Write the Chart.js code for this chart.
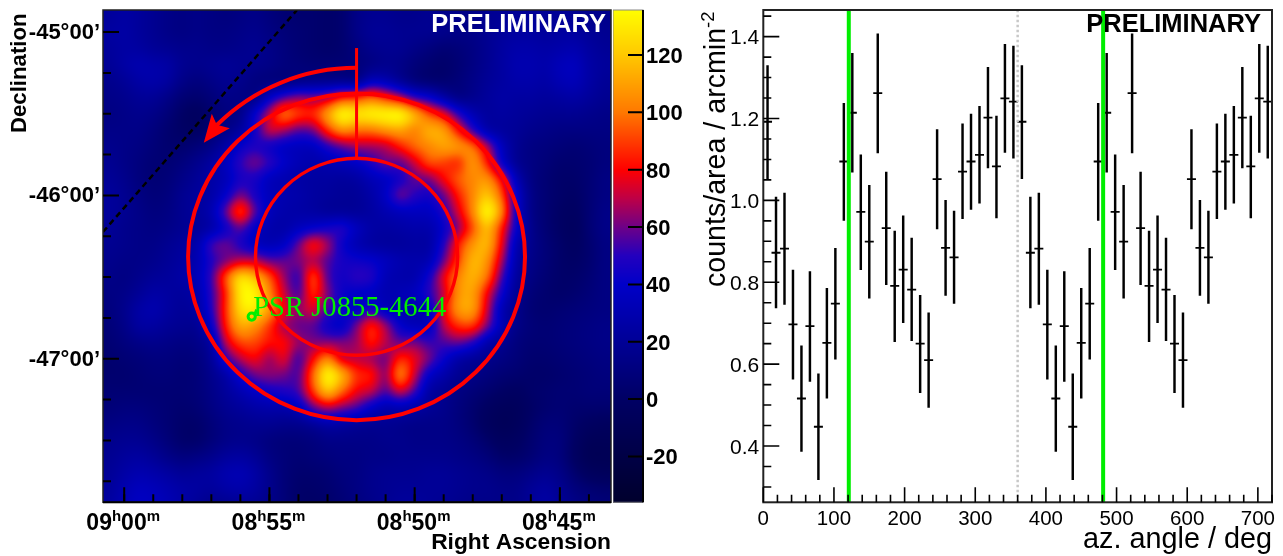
<!DOCTYPE html>
<html>
<head>
<meta charset="utf-8">
<title>Sky map and azimuthal profile</title>
<script src="https://cdn.jsdelivr.net/npm/chart.js@4"></script>
<style>
  html, body { margin: 0; background: #fff; }
  canvas { position: absolute; top: 0; }
  #mapChart { left: 0; }
  #barChart { left: 613px; }
  #azChart { left: 690px; }
</style>
</head>
<body>
<canvas id="mapChart" width="612" height="556"></canvas>
<canvas id="barChart" width="77" height="556"></canvas>
<canvas id="azChart" width="593" height="556"></canvas>

<script>
// ================= DATA: SKY MAP =================
// grid centres, right ascension in minutes after 08h, declination in degrees
const raGrid = [60.5,60,59.5,59,58.5,58,57.5,57,56.5,56,55.5,55,54.5,54,53.5,53,52.5,52,51.5,51,50.5,50,49.5,49,48.5,48,47.5,47,46.5,46,45.5,45,44.5,44,43.5];
const decGrid = [-44.9,-45,-45.1,-45.2,-45.3,-45.4,-45.5,-45.6,-45.7,-45.8,-45.9,-46,-46.1,-46.2,-46.3,-46.4,-46.5,-46.6,-46.7,-46.8,-46.9,-47,-47.1,-47.2,-47.3,-47.4,-47.5,-47.6,-47.7,-47.8,-47.9];
const skyCounts = [
  [22,25,22,18,14,12,14,12,10,12,14,10,6,4,4,2,4,14,18,18,16,16,18,16,14,14,18,20,20,20,20,20,18,16,16],
  [24,26,22,18,14,12,14,12,12,14,16,12,8,6,4,2,4,14,20,20,18,18,18,16,14,14,18,22,24,24,22,24,24,20,18],
  [22,25,24,20,18,16,16,14,14,16,18,14,10,6,4,2,4,10,16,18,18,14,10,6,8,12,18,24,28,28,26,28,30,24,20],
  [20,26,30,28,26,18,16,18,20,18,16,14,10,8,6,6,6,8,12,16,14,8,4,2,6,12,18,24,30,30,28,34,36,26,22],
  [16,20,26,28,24,14,10,14,18,16,10,8,8,12,14,14,14,12,34,30,18,8,4,4,8,14,20,24,28,28,26,32,34,26,20],
  [14,16,20,20,14,6,4,8,14,12,12,38,55,65,62,68,85,88,98,85,70,50,42,25,12,16,22,26,24,24,22,24,26,22,18],
  [12,14,16,14,8,0,-4,4,10,14,42,72,104,92,88,112,140,132,136,138,140,118,92,78,50,30,22,24,22,20,18,18,18,16,14],
  [14,14,14,10,4,0,-2,6,14,22,45,75,68,56,60,88,108,100,100,108,112,102,116,112,82,50,26,22,20,16,14,12,12,12,12],
  [16,14,12,8,4,4,8,14,26,42,48,42,36,34,34,48,58,66,66,68,84,98,104,112,110,100,70,34,18,12,10,8,6,8,10],
  [18,14,10,6,6,10,16,24,36,52,62,52,40,32,28,30,34,38,48,60,56,72,94,90,84,110,85,40,18,12,8,4,4,6,10],
  [20,16,10,6,8,14,20,26,32,46,46,34,30,26,24,24,22,24,32,36,44,58,60,80,96,104,108,80,32,12,6,2,2,6,12],
  [22,18,12,8,10,18,22,26,40,62,46,34,30,28,24,22,20,20,26,38,62,50,44,58,84,104,122,95,42,14,6,2,0,6,12],
  [22,18,14,10,12,18,22,30,60,96,58,34,28,26,24,20,20,20,24,30,34,36,36,48,74,104,140,106,42,14,6,0,-2,6,14],
  [20,16,14,12,14,18,20,26,42,58,38,28,26,34,40,46,50,36,26,24,26,28,28,40,62,92,120,84,42,16,6,0,-4,6,14],
  [18,16,14,14,18,22,28,55,60,46,34,30,36,60,86,68,42,30,24,22,22,24,24,48,85,108,118,78,30,16,8,2,-2,4,12],
  [16,14,14,16,20,24,30,48,60,70,70,58,58,62,68,56,46,44,42,36,30,28,30,58,90,118,108,68,26,14,8,2,0,4,12],
  [14,12,16,20,22,26,32,52,95,130,118,95,65,48,96,55,44,52,50,32,28,28,45,78,104,116,100,55,22,12,6,2,2,6,12],
  [12,14,20,26,24,22,28,50,85,134,136,104,72,52,90,62,42,38,36,30,32,36,50,70,108,112,78,44,18,8,4,2,4,8,12],
  [10,16,26,30,24,20,24,48,88,128,132,110,78,65,76,54,44,36,48,34,30,28,34,78,110,112,72,30,16,6,4,6,8,10,12],
  [8,14,24,24,20,18,18,40,85,114,106,88,65,58,56,42,36,62,88,68,40,32,34,70,88,90,62,32,14,8,6,8,10,12,14],
  [6,10,14,16,14,12,14,24,72,92,92,82,82,66,62,62,62,65,86,70,58,62,52,55,60,50,28,18,10,6,6,8,10,12,14],
  [4,6,8,10,10,8,10,20,50,70,80,64,78,50,80,106,72,70,65,58,88,78,62,42,26,20,16,12,8,4,4,6,8,10,12],
  [4,4,6,8,8,6,8,16,26,45,60,64,60,54,98,140,118,88,85,62,108,72,38,28,18,14,10,6,4,2,2,4,6,8,10],
  [6,6,6,6,6,6,8,14,22,30,38,44,48,54,90,122,98,78,72,55,75,55,24,18,12,8,4,0,-2,2,4,6,6,8,8],
  [8,10,10,8,6,4,6,12,18,22,26,28,28,34,58,70,62,55,38,28,30,26,20,16,10,4,-2,-6,-6,0,4,6,4,4,4],
  [12,14,14,10,6,2,2,8,14,16,18,18,16,16,20,26,24,20,18,18,16,14,14,14,10,4,-4,-8,-6,2,8,8,2,-2,-4],
  [16,18,18,14,8,2,2,8,14,16,14,10,8,8,10,14,14,14,14,16,16,14,14,14,12,8,2,-4,-2,4,10,10,0,-8,-8],
  [18,22,24,20,14,10,12,16,22,24,20,12,8,6,8,10,12,12,14,14,16,16,16,16,14,12,8,2,2,6,12,10,-2,-10,-10],
  [20,26,30,28,24,20,22,24,30,32,26,16,8,4,4,6,10,12,16,18,18,18,20,20,18,16,14,10,10,14,18,14,4,-4,-6],
  [22,30,36,34,30,26,24,22,26,28,24,16,8,2,2,4,8,12,16,18,20,20,20,20,18,16,16,14,14,20,24,18,10,6,4],
  [24,32,38,36,32,26,20,14,16,18,18,14,8,2,0,2,6,10,14,18,22,22,20,18,16,14,14,14,14,20,26,20,14,10,8]
];

// colour scale
const colorValues = [-36,0,20,40,50,60,70,80,90,100,120,136];
const colorStops = [[0,0,45],[0,0,100],[0,0,150],[0,0,200],[35,0,190],[110,0,135],[190,0,70],[255,0,0],[255,60,0],[255,120,0],[255,200,0],[255,255,0]];
const colorTicks = [-20,0,20,40,60,80,100,120];

// map axes
const raTicks = [60,55,50,45];
const raHours = ["09","08","08","08"];
const raMinutes = ["00","55","50","45"];
const raMinorTicks = [60,59,58,57,56,55,54,53,52,51,50,49,48,47,46,45,44];
const decTicks = [-45,-46,-47];
const decLabels = ["-45°00’","-46°00’","-47°00’"];
const decMinorTicks = [-45.25,-45.5,-45.75,-46.25,-46.5,-46.75,-47.25,-47.5,-47.75];

// overlays on the map
const ringRa = 52;
const ringDec = -46.376;
const outerRing = [5.80, 1.0];
const innerRing = [3.48, 0.603];
const arrowScale = 1.157;
const arrowTip = [57.26, -45.677];
const startLineDec = [-45.098, -45.776];
const planeRa = [60.73, 54.05];
const planeDec = [-46.224, -44.865];
const psrRa = 55.61;
const psrDec = -46.742;
const psrName = "PSR J0855-4644";

// ================= DATA: AZIMUTH PROFILE =================
const azCenters = [6,18,30,42,54,66,78,90,102,114,126,138,150,162,174,186,198,210,222,234,246,258,270,282,294,306,318,330,342,354,
                   366,378,390,402,414,426,438,450,462,474,486,498,510,522,534,546,558,570,582,594,606,618,630,642,654,666,678,690,702,714];
const azCounts = [1.192,0.872,0.882,0.697,0.516,0.693,0.447,0.652,0.748,1.095,1.214,0.972,0.899,1.262,0.932,0.791,0.831,0.782,0.650,0.610,1.052,0.884,0.861,1.070,1.095,1.111,1.202,1.083,1.249,1.241,
                  1.192,0.872,0.882,0.697,0.516,0.693,0.447,0.652,0.748,1.095,1.214,0.972,0.899,1.262,0.932,0.791,0.831,0.782,0.650,0.610,1.052,0.884,0.861,1.070,1.095,1.111,1.202,1.083,1.249,1.241];
const azLow = [1.053,0.737,0.746,0.563,0.387,0.558,0.318,0.517,0.612,0.951,1.069,0.831,0.761,1.116,0.794,0.655,0.701,0.657,0.530,0.494,0.930,0.768,0.748,0.955,0.978,0.993,1.079,0.957,1.117,1.103,
               1.053,0.737,0.746,0.563,0.387,0.558,0.318,0.517,0.612,0.951,1.069,0.831,0.761,1.116,0.794,0.655,0.701,0.657,0.530,0.494,0.930,0.768,0.748,0.955,0.978,0.993,1.079,0.957,1.117,1.103];
const azHigh = [1.329,1.008,1.018,0.830,0.645,0.826,0.576,0.785,0.883,1.237,1.359,1.111,1.037,1.407,1.069,0.925,0.962,0.908,0.768,0.725,1.173,1.000,0.974,1.187,1.211,1.230,1.325,1.206,1.381,1.377,
                1.329,1.008,1.018,0.830,0.645,0.826,0.576,0.785,0.883,1.237,1.359,1.111,1.037,1.407,1.069,0.925,0.962,0.908,0.768,0.725,1.173,1.000,0.974,1.187,1.211,1.230,1.325,1.206,1.381,1.377];
const greenAngles = [121, 481];
const wrapAngle = 360;
const azTicks = [0,100,200,300,400,500,600,700];
const azMinorTicks = [20,40,60,80,120,140,160,180,220,240,260,280,320,340,360,380,420,440,460,480,520,540,560,580,620,640,660,680,720];
const countTicks = [0.4,0.6,0.8,1.0,1.2,1.4];
const countMinorTicks = [0.3,0.35,0.45,0.5,0.55,0.65,0.7,0.75,0.85,0.9,0.95,1.05,1.1,1.15,1.25,1.3,1.35,1.45];

// ================= HELPERS =================
const SANS = '"Liberation Sans", Arial, sans-serif';
const SERIF = '"Liberation Serif", "Times New Roman", serif';

function fixBox(size, vertical) {
  return (scale) => {
    if (vertical) scale.width = size; else scale.height = size;
    scale.paddingLeft = scale.paddingRight = scale.paddingTop = scale.paddingBottom = 0;
  };
}

function setTicks(values) {
  return (scale) => { scale.ticks = values.map(v => ({ value: v })); };
}

function colorFor(v) {
  const n = colorValues.length;
  if (v <= colorValues[0]) return colorStops[0];
  if (v >= colorValues[n - 1]) return colorStops[n - 1];
  let i = 0;
  while (v > colorValues[i + 1]) i++;
  const t = (v - colorValues[i]) / (colorValues[i + 1] - colorValues[i]);
  return colorStops[i].map((c, k) => c + (colorStops[i + 1][k] - c) * t);
}

// blend of Catmull-Rom and B-spline, keeps the map soft without dark rims
function cubic(a, b, c, d, t) {
  const cr = b + 0.5 * t * (c - a + t * (2 * a - 5 * b + 4 * c - d + t * (3 * (b - c) + d - a)));
  const u = 1 - t;
  const bs = (u * u * u * a + (3 * t * t * t - 6 * t * t + 4) * b + (-3 * t * t * t + 3 * t * t + 3 * t + 1) * c + t * t * t * d) / 6;
  return 0.4 * cr + 0.6 * bs;
}

function skyValue(ra, dec) {
  const fx = (raGrid[0] - ra) / (raGrid[0] - raGrid[1]);
  const fy = (decGrid[0] - dec) / (decGrid[0] - decGrid[1]);
  const ix = Math.floor(fx), iy = Math.floor(fy);
  const cell = (i, j) => {
    const row = skyCounts[Math.max(0, Math.min(skyCounts.length - 1, j))];
    return row[Math.max(0, Math.min(row.length - 1, i))];
  };
  const rows = [];
  for (let j = -1; j <= 2; j++) {
    rows.push(cubic(cell(ix - 1, iy + j), cell(ix, iy + j), cell(ix + 1, iy + j), cell(ix + 2, iy + j), fx - ix));
  }
  return cubic(rows[0], rows[1], rows[2], rows[3], fy - iy);
}

function tickMarks(ctx, scale, values, len, side) {
  ctx.beginPath();
  values.forEach(v => {
    const p = scale.getPixelForValue(v);
    if (side === "bottom") { ctx.moveTo(p, scale.top); ctx.lineTo(p, scale.top - len); }
    if (side === "left") { ctx.moveTo(scale.right, p); ctx.lineTo(scale.right + len, p); }
    if (side === "right") { ctx.moveTo(scale.left, p); ctx.lineTo(scale.left - len, p); }
  });
  ctx.stroke();
}

function ellipsePath(ctx, x, y, ra, dec, radii, from, to) {
  const cx = x.getPixelForValue(ra), cy = y.getPixelForValue(dec);
  const rx = Math.abs(x.getPixelForValue(ra + radii[0]) - cx);
  const ry = Math.abs(y.getPixelForValue(dec + radii[1]) - cy);
  ctx.beginPath();
  ctx.ellipse(cx, cy, rx, ry, 0, from, to, to < from);
  ctx.stroke();
}

// ================= SKY MAP =================
const mapPlugin = {
  id: "skyMap",
  beforeDatasetsDraw(chart) {
    const { ctx, chartArea: a, scales: { x, y } } = chart;
    const w = Math.ceil(a.right - a.left), h = Math.ceil(a.bottom - a.top);
    const off = document.createElement("canvas");
    off.width = w; off.height = h;
    const octx = off.getContext("2d");
    const img = octx.createImageData(w, h);
    for (let py = 0; py < h; py++) {
      const dec = y.getValueForPixel(a.top + py + 0.5);
      for (let px = 0; px < w; px++) {
        const c = colorFor(skyValue(x.getValueForPixel(a.left + px + 0.5), dec));
        const k = (py * w + px) * 4;
        img.data[k] = c[0]; img.data[k + 1] = c[1]; img.data[k + 2] = c[2]; img.data[k + 3] = 255;
      }
    }
    octx.putImageData(img, 0, 0);
    ctx.drawImage(off, a.left, a.top);
  },
  afterDatasetsDraw(chart) {
    const { ctx, chartArea: a, scales: { x, y } } = chart;
    ctx.save();

    // rings, start line and direction arrow
    ctx.strokeStyle = "#ff0000";
    ctx.lineWidth = 4;
    ellipsePath(ctx, x, y, ringRa, ringDec, outerRing, 0, Math.PI * 2);
    ctx.lineWidth = 3.4;
    ellipsePath(ctx, x, y, ringRa, ringDec, innerRing, 0, Math.PI * 2);
    ctx.lineWidth = 4;
    ellipsePath(ctx, x, y, ringRa, ringDec, outerRing.map(r => r * arrowScale), -Math.PI / 2, -Math.PI * 0.755);
    ctx.lineWidth = 3;
    ctx.beginPath();
    ctx.moveTo(x.getPixelForValue(ringRa), y.getPixelForValue(startLineDec[0]));
    ctx.lineTo(x.getPixelForValue(ringRa), y.getPixelForValue(startLineDec[1]));
    ctx.stroke();
    const tx = x.getPixelForValue(arrowTip[0]), ty = y.getPixelForValue(arrowTip[1]);
    ctx.fillStyle = "#ff0000";
    ctx.beginPath();
    ctx.moveTo(tx, ty);
    ctx.lineTo(tx + 8, ty - 29);
    ctx.lineTo(tx + 13, ty - 18);
    ctx.lineTo(tx + 26, ty - 14.5);
    ctx.closePath();
    ctx.fill();

    // pulsar marker and name
    const px = x.getPixelForValue(psrRa), py = y.getPixelForValue(psrDec);
    ctx.strokeStyle = "#00ee00";
    ctx.lineWidth = 3;
    ctx.beginPath();
    ctx.arc(px, py, 3.6, 0, Math.PI * 2);
    ctx.moveTo(px + 3, py - 2);
    ctx.lineTo(px + 5, py - 7);
    ctx.stroke();
    ctx.fillStyle = "#00ee00";
    ctx.font = "28.6px " + SERIF;
    ctx.textAlign = "left";
    ctx.textBaseline = "alphabetic";
    ctx.fillText(psrName, px + 1.5, py - 0.5);

    ctx.fillStyle = "#ffffff";
    ctx.font = "bold 25.5px " + SANS;
    ctx.textAlign = "right";
    ctx.fillText("PRELIMINARY", 606, 32);

    // frame and ticks
    ctx.strokeStyle = "#222";
    ctx.lineWidth = 1.5;
    ctx.strokeRect(a.left, a.top, a.right - a.left, a.bottom - a.top);
    ctx.strokeStyle = "#000";
    ctx.lineWidth = 2;
    ctx.beginPath();
    ctx.moveTo(a.left, a.bottom);
    ctx.lineTo(a.right, a.bottom);
    ctx.stroke();
    tickMarks(ctx, x, raMinorTicks, 8, "bottom");
    tickMarks(ctx, x, raTicks, 15, "bottom");
    tickMarks(ctx, y, decMinorTicks, 8, "left");
    tickMarks(ctx, y, decTicks, 16, "left");

    // hour labels with raised h and m
    ctx.fillStyle = "#000";
    ctx.textAlign = "left";
    raTicks.forEach((v, i) => {
      const parts = [[raHours[i], false], ["h", true], [raMinutes[i], false], ["m", true]];
      const fontOf = (sup) => "bold " + (sup ? 15 : 23) + "px " + SANS;
      let width = 0;
      parts.forEach(p => { ctx.font = fontOf(p[1]); width += ctx.measureText(p[0]).width; });
      let cx = x.getPixelForValue(v) - width / 2 - 1;
      parts.forEach(p => {
        ctx.font = fontOf(p[1]);
        ctx.fillText(p[0], cx, p[1] ? 521 : 530);
        cx += ctx.measureText(p[0]).width;
      });
    });

    ctx.font = "bold 22.8px " + SANS;
    ctx.textAlign = "right";
    ctx.fillText("Right Ascension", 611, 549);
    ctx.translate(26, 133);
    ctx.rotate(-Math.PI / 2);
    ctx.textAlign = "left";
    ctx.font = "bold 22.2px " + SANS;
    ctx.fillText("Declination", 0, 0);
    ctx.restore();
  }
};

new Chart(document.getElementById("mapChart"), {
  type: "scatter",
  data: {
    datasets: [{
      data: planeRa.map((ra, i) => ({ x: ra, y: planeDec[i] })),
      showLine: true,
      borderColor: "#000",
      borderWidth: 2.5,
      borderDash: [6, 4],
      pointRadius: 0
    }]
  },
  options: {
    responsive: false,
    animation: false,
    layout: { padding: { top: 10, right: 1 } },
    plugins: { legend: { display: false }, tooltip: { enabled: false } },
    scales: {
      x: {
        type: "linear", min: 43.24, max: 60.73, reverse: true,
        grid: { display: false }, border: { display: false },
        ticks: { display: false },
        afterFit: fixBox(53.7, false)
      },
      y: {
        type: "linear", min: -47.879, max: -44.865,
        grid: { display: false, drawTicks: false }, border: { display: false },
        afterBuildTicks: setTicks(decTicks),
        afterFit: fixBox(103, true),
        ticks: {
          color: "#000", padding: 3, autoSkip: false, labelOffset: 1,
          font: { family: SANS, size: 22, weight: "bold" },
          callback: (v) => decLabels[decTicks.indexOf(v)]
        }
      }
    }
  },
  plugins: [mapPlugin]
});

// ================= COLOUR BAR =================
const barPlugin = {
  id: "colorBar",
  beforeDatasetsDraw(chart) {
    const { ctx, chartArea: a, scales: { y } } = chart;
    for (let py = Math.floor(a.top); py < a.bottom; py++) {
      const c = colorFor(y.getValueForPixel(py + 0.5));
      ctx.fillStyle = `rgb(${c[0]},${c[1]},${c[2]})`;
      ctx.fillRect(a.left, py, a.right - a.left, 1);
    }
  },
  afterDatasetsDraw(chart) {
    const { ctx, chartArea: a, scales: { y } } = chart;
    ctx.save();
    ctx.strokeStyle = "#888";
    ctx.lineWidth = 1;
    ctx.strokeRect(a.left, a.top, a.right - a.left, a.bottom - a.top);
    ctx.strokeStyle = "#000";
    ctx.lineWidth = 2;
    ctx.beginPath();
    ctx.moveTo(a.right, a.top);
    ctx.lineTo(a.right, a.bottom);
    ctx.stroke();
    tickMarks(ctx, y, colorTicks, 15, "right");
    ctx.restore();
  }
};

new Chart(document.getElementById("barChart"), {
  type: "scatter",
  data: { datasets: [{ data: [], pointRadius: 0 }] },
  options: {
    responsive: false,
    animation: false,
    layout: { padding: { top: 10, bottom: 53.7 } },
    plugins: { legend: { display: false }, tooltip: { enabled: false } },
    scales: {
      x: { display: false },
      y: {
        type: "linear", position: "right", min: -36, max: 135.7,
        grid: { display: false, drawTicks: false }, border: { display: false },
        afterBuildTicks: setTicks(colorTicks),
        afterFit: fixBox(47, true),
        ticks: {
          color: "#000", padding: 3, autoSkip: false, labelOffset: 2,
          font: { family: SANS, size: 22, weight: "bold" }
        }
      }
    }
  },
  plugins: [barPlugin]
});

// ================= AZIMUTH PROFILE =================
const azPlugin = {
  id: "azFrame",
  afterDatasetsDraw(chart) {
    const { ctx, chartArea: a, scales: { x, y } } = chart;
    ctx.save();
    ctx.strokeStyle = "#222";
    ctx.lineWidth = 2;
    ctx.strokeRect(a.left, a.top, a.right - a.left, a.bottom - a.top);
    ctx.strokeStyle = "#000";
    ctx.lineWidth = 1.6;
    tickMarks(ctx, x, azMinorTicks, 7.5, "bottom");
    tickMarks(ctx, x, azTicks, 15, "bottom");
    tickMarks(ctx, y, countMinorTicks, 8, "left");
    tickMarks(ctx, y, countTicks, 16, "left");

    // canvas is offset by 690 px from the page
    ctx.fillStyle = "#000";
    ctx.textBaseline = "alphabetic";
    ctx.font = "bold 25.5px " + SANS;
    ctx.textAlign = "right";
    ctx.fillText("PRELIMINARY", 1261 - 690, 32);
    ctx.font = "28.8px " + SANS;
    ctx.fillText("az. angle / deg", 1272 - 690, 547.5);

    ctx.translate(725 - 690, 287);
    ctx.rotate(-Math.PI / 2);
    ctx.textAlign = "left";
    ctx.font = "28.6px " + SANS;
    const title = "counts/area / arcmin";
    ctx.fillText(title, 0, 0);
    const tw = ctx.measureText(title).width;
    ctx.font = "18.5px " + SANS;
    ctx.fillText("-2", tw, -11);
    ctx.restore();
  }
};

const verticalLine = (angle, color, width, dash) => ({
  type: "line",
  data: [{ x: angle, y: 0.2625 }, { x: angle, y: 1.465 }],
  borderColor: color,
  borderWidth: width,
  borderDash: dash,
  pointRadius: 0,
  fill: false
});

new Chart(document.getElementById("azChart"), {
  type: "bar",
  data: {
    datasets: [
      verticalLine(wrapAngle, "#c8c8c8", 2.5, [2.5, 2.5]),
      verticalLine(greenAngles[0], "#00ee00", 4, []),
      verticalLine(greenAngles[1], "#00ee00", 4, []),
      {
        type: "bar",
        data: azCenters.map((x, i) => ({ x: x, y: [azLow[i], azHigh[i]] })),
        backgroundColor: "#000",
        barThickness: 1.8,
        grouped: false
      },
      {
        type: "line",
        data: azCenters.map((x, i) => ({ x: x, y: azCounts[i] })),
        showLine: false,
        pointStyle: "line",
        pointRadius: 4.5,
        pointBorderWidth: 1.8,
        pointBorderColor: "#000"
      }
    ]
  },
  options: {
    responsive: false,
    animation: false,
    layout: { padding: { top: 10, right: 11 } },
    plugins: { legend: { display: false }, tooltip: { enabled: false } },
    scales: {
      x: {
        type: "linear", min: 0, max: 720, offset: false,
        grid: { display: false, drawTicks: false }, border: { display: false },
        afterBuildTicks: setTicks(azTicks),
        afterFit: fixBox(53.7, false),
        ticks: {
          color: "#000", padding: 5, autoSkip: false, maxRotation: 0, minRotation: 0,
          font: { family: SANS, size: 20.5 }
        }
      },
      y: {
        type: "linear", min: 0.2625, max: 1.465,
        grid: { display: false, drawTicks: false }, border: { display: false },
        afterBuildTicks: setTicks(countTicks),
        afterFit: fixBox(73.3, true),
        ticks: {
          color: "#000", padding: 4, autoSkip: false, labelOffset: 2,
          font: { family: SANS, size: 21 },
          callback: (v) => v.toFixed(1)
        }
      }
    }
  },
  plugins: [azPlugin]
});
</script>
</body>
</html>
